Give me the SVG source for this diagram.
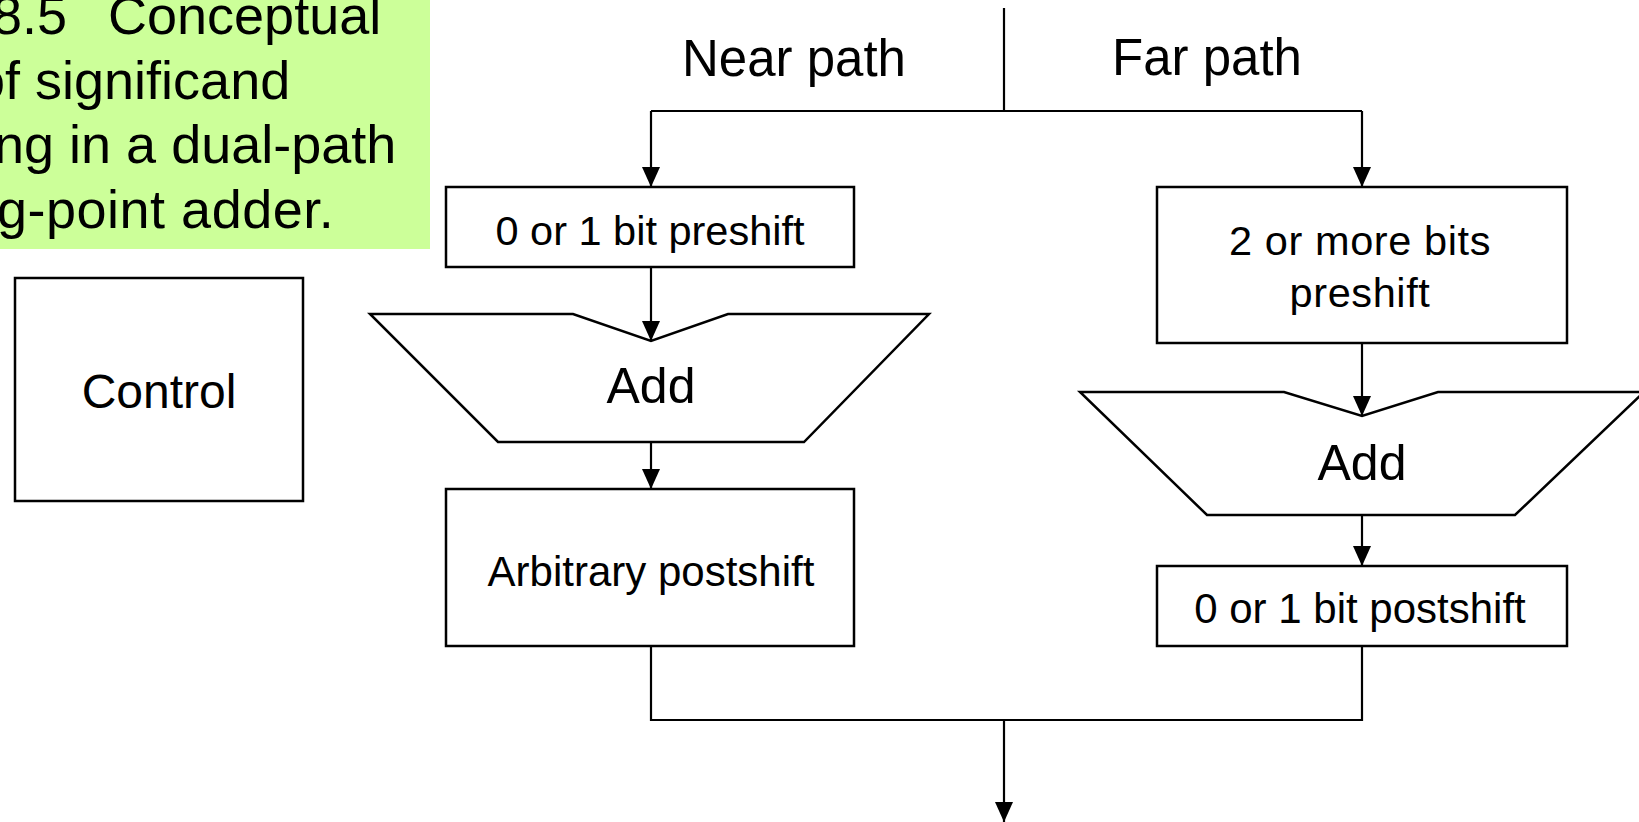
<svg xmlns="http://www.w3.org/2000/svg" width="1639" height="822" viewBox="0 0 1639 822">
  <style>
    text { font-family: "Liberation Sans", Arial, sans-serif; fill: #000; }
    .box { fill: #fff; stroke: #000; stroke-width: 2.5; }
    .wire { fill: none; stroke: #000; stroke-width: 2.2; }
    .cap { font-size: 54px; }
    .lbl { font-size: 41.5px; text-anchor: middle; }
    .big { font-size: 51px; }
  </style>
  <defs>
    <marker id="arrow" markerUnits="userSpaceOnUse" markerWidth="20" markerHeight="20" refX="20" refY="10" orient="auto">
      <path d="M0,1 L20,10 L0,19 z" fill="#000"/>
    </marker>
  </defs>
  <rect width="1639" height="822" fill="#fff"/>

  <!-- caption panel, its text runs past the left edge -->
  <g id="caption">
    <rect x="0" y="0" width="430" height="249" fill="#ccff99"/>
    <text class="cap" y="34"><tspan x="-8">8.5</tspan><tspan x="108">Conceptual</tspan></text>
    <text class="cap" x="-25" y="99">of significand</text>
    <text class="cap" x="-6" y="163">ng in a dual-path</text>
    <text class="cap" x="-3" y="228" letter-spacing="0.5">g-point adder.</text>
  </g>

  <!-- path headings -->
  <g id="near-label"><text class="big" x="682" y="76">Near path</text></g>
  <g id="far-label"><text class="big" x="1112" y="75">Far path</text></g>

  <!-- control unit -->
  <g id="control">
    <rect class="box" x="15" y="278" width="288" height="223"/>
    <text x="159" y="408" font-size="48" text-anchor="middle">Control</text>
  </g>

  <!-- connectors -->
  <g id="connectors">
    <path class="wire" d="M1004,8 V111"/>
    <path class="wire" d="M651,111 H1362"/>
    <path class="wire" d="M651,111 V187" marker-end="url(#arrow)"/>
    <path class="wire" d="M1362,111 V187" marker-end="url(#arrow)"/>
    <path class="wire" d="M651,262 V341" marker-end="url(#arrow)"/>
    <path class="wire" d="M1362,338 V416" marker-end="url(#arrow)"/>
    <path class="wire" d="M651,442 V489" marker-end="url(#arrow)"/>
    <path class="wire" d="M1362,515 V566" marker-end="url(#arrow)"/>
    <path class="wire" d="M651,642 V720 H1362 V642"/>
    <path class="wire" d="M1004,720 V822" marker-end="url(#arrow)"/>
  </g>

  <!-- near path -->
  <g id="near-preshift">
    <rect class="box" x="446" y="187" width="408" height="80"/>
    <text class="lbl" x="650" y="245">0 or 1 bit preshift</text>
  </g>
  <g id="near-add">
    <path class="box" d="M370,314 H573 L651,341 L728,314 H929 L804,442 H498 Z"/>
    <text x="651" y="403" font-size="50" text-anchor="middle">Add</text>
  </g>
  <g id="near-postshift">
    <rect class="box" x="446" y="489" width="408" height="157"/>
    <text x="651" y="586" font-size="42" text-anchor="middle">Arbitrary postshift</text>
  </g>

  <!-- far path -->
  <g id="far-preshift">
    <rect class="box" x="1157" y="187" width="410" height="156"/>
    <text class="lbl" x="1360" y="255" letter-spacing="0.6">2 or more bits</text>
    <text class="lbl" x="1360" y="307" letter-spacing="0.6">preshift</text>
  </g>
  <g id="far-add">
    <path class="box" d="M1080,392 H1284 L1362,416 L1438,392 H1644 L1515,515 H1207 Z"/>
    <text x="1362" y="480" font-size="50" text-anchor="middle">Add</text>
  </g>
  <g id="far-postshift">
    <rect class="box" x="1157" y="566" width="410" height="80"/>
    <text x="1360" y="623" font-size="42" text-anchor="middle">0 or 1 bit postshift</text>
  </g>
</svg>
